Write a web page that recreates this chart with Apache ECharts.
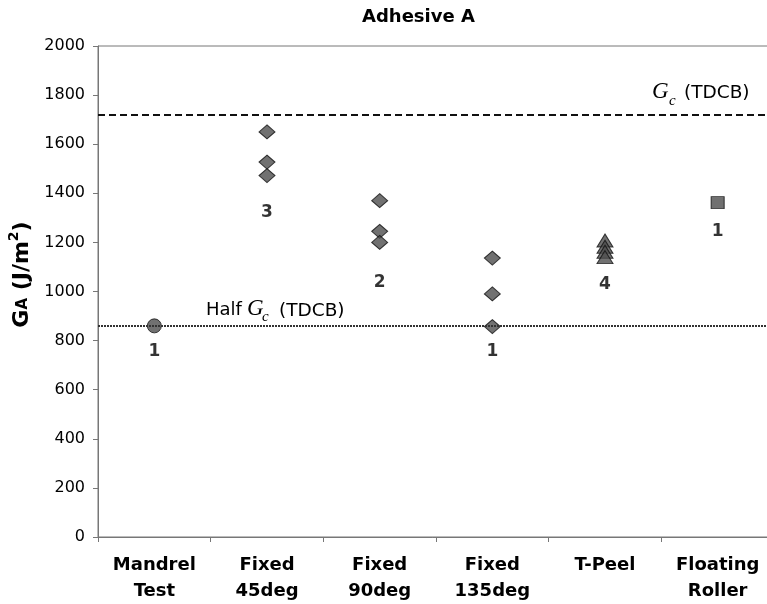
<!DOCTYPE html>
<html><head><meta charset="utf-8">
<script src="https://cdn.jsdelivr.net/npm/echarts@6/dist/echarts.min.js"></script>
<style>html,body{margin:0;padding:0;background:#fff}#c{width:767px;height:604px}</style>
</head><body><div id="c"></div>
<script>
// ---- data ----
const categories = ['Mandrel\nTest', 'Fixed\n45deg', 'Fixed\n90deg', 'Fixed\n135deg', 'T-Peel', 'Floating\nRoller'];
const mandrelTest = [860];
const fixed45deg = [1650, 1527, 1472];
const fixed90deg = [1370, 1245, 1200];
const fixed135deg = [1136, 990, 857];
const tPeel = [1208, 1182, 1162, 1140];
const floatingRoller = [1362];
const testCounts = ['1', '3', '2', '1', '4', '1'];
const countLabelAt = [754, 1320, 1035, 754, 1027, 1246];
const gcTDCB = 1720;
const halfGcTDCB = 860;
const yMin = 0, yMax = 2000, yStep = 200;

// ---- styles ----
const SANS = '"DejaVu Sans", "Liberation Sans", Arial, sans-serif';
const SERIF = '"Liberation Serif", "DejaVu Serif", serif';
const AXIS = '#777';
const markerStyle = { color: '#4d4d4d', borderColor: '#111', borderWidth: 1 };

const groups = [
  { vals: mandrelTest, symbol: 'circle', size: [14, 14] },
  { vals: fixed45deg, symbol: 'diamond', size: [16, 14] },
  { vals: fixed90deg, symbol: 'diamond', size: [16, 14] },
  { vals: fixed135deg, symbol: 'diamond', size: [16, 14] },
  { vals: tPeel, symbol: 'triangle', size: [16, 13] },
  { vals: floatingRoller, symbol: 'rect', size: [13, 12] }
];

const series = groups.map((g, i) => ({
  type: 'scatter',
  name: categories[i],
  symbol: g.symbol,
  symbolSize: g.size,
  itemStyle: markerStyle,
  silent: true,
  z: 3,
  data: g.vals.map(v => [i, v])
}));

series.push({
  type: 'scatter',
  name: 'counts',
  symbolSize: 0,
  silent: true,
  z: 4,
  data: countLabelAt.map((v, i) => ({ value: [i, v], label: { formatter: testCounts[i] } })),
  label: { show: true, position: 'inside', color: '#000', fontFamily: SANS, fontWeight: 'bold', fontSize: 17 },
  markLine: {
    silent: true,
    symbol: 'none',
    label: { show: false },
    data: [
      { yAxis: gcTDCB, lineStyle: { type: [7, 4], width: 2, color: '#111' } },
      { yAxis: halfGcTDCB, lineStyle: { type: [2, 1], width: 2, color: '#333' } }
    ]
  }
});

const chart = echarts.init(document.getElementById('c'), null, { renderer: 'canvas' });
chart.setOption({
  animation: false,
  backgroundColor: '#fff',
  title: {
    text: 'Adhesive A', left: 357, top: 3,
    textStyle: { fontFamily: SANS, fontWeight: 'bold', fontSize: 18, color: '#000' }
  },
  grid: { left: 98, top: 46, width: 676, height: 491, outerBoundsMode: 'none', containLabel: false,
          show: true, borderColor: AXIS, borderWidth: 1, backgroundColor: 'transparent' },
  xAxis: {
    type: 'category', data: categories, boundaryGap: true,
    axisLine: { show: true, lineStyle: { color: AXIS, width: 1 } },
    axisTick: { show: true, length: 5, alignWithLabel: false, lineStyle: { color: AXIS } },
    axisLabel: { interval: 0, margin: 15, color: '#000', fontFamily: SANS, fontWeight: 'bold', fontSize: 18, lineHeight: 26 },
    splitLine: { show: false }
  },
  yAxis: {
    type: 'value', min: yMin, max: yMax, interval: yStep,
    axisLine: { show: true, lineStyle: { color: AXIS, width: 1 } },
    axisTick: { show: true, length: 5, lineStyle: { color: AXIS } },
    axisLabel: { margin: 13, color: '#000', fontFamily: SANS, fontSize: 16, formatter: v => String(v) },
    splitLine: { show: false },
    name: '{g|G}{a|A}{g| (J/m}{s|2}{g|)}',
    nameLocation: 'middle', nameGap: 62, nameRotate: 90,
    nameTextStyle: {
      color: '#000',
      padding: [0, 0, 0, 34],
      rich: {
        g: { fontFamily: SANS, fontWeight: 'bold', fontSize: 22, lineHeight: 26, verticalAlign: 'bottom', color: '#000' },
        a: { fontFamily: SANS, fontWeight: 'bold', fontSize: 15, lineHeight: 26, verticalAlign: 'bottom', color: '#000', padding: [0, 0, 3, 0] },
        s: { fontFamily: SANS, fontWeight: 'bold', fontSize: 14, lineHeight: 26, verticalAlign: 'top', color: '#000' }
      }
    }
  },
  series: series
});

// annotation texts for the reference lines
const yGc = chart.convertToPixel({ yAxisIndex: 0 }, gcTDCB);
const yHalf = chart.convertToPixel({ yAxisIndex: 0 }, halfGcTDCB);
function txt(x, y, text, font, align) {
  return { type: 'text', x: x, y: y, silent: true, z: 10,
    style: { text: text, font: font, fill: '#000', align: align || 'left', verticalAlign: 'middle' } };
}
chart.setOption({
  graphic: [
    txt(652, yGc - 23, 'G', 'italic 23px ' + SERIF),
    txt(669, yGc - 14, 'c', 'italic 15px ' + SERIF),
    txt(684, yGc - 22, '(TDCB)', '18.5px ' + SANS),
    txt(206, yHalf - 16, 'Half', '18px ' + SANS),
    txt(247, yHalf - 17, 'G', 'italic 23px ' + SERIF),
    txt(262, yHalf - 9, 'c', 'italic 15px ' + SERIF),
    txt(279, yHalf - 15, '(TDCB)', '18.5px ' + SANS)
  ]
});
</script>
</body></html>
